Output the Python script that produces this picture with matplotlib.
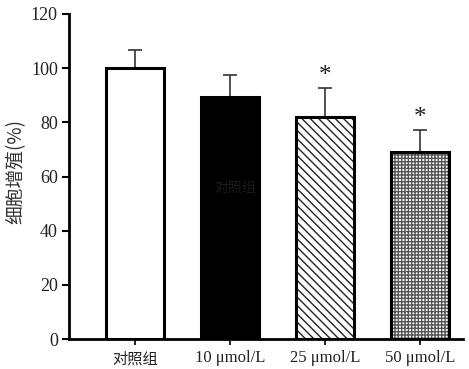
import matplotlib
matplotlib.use("Agg")
import matplotlib.pyplot as plt
import numpy as np

categories = ["对照组", "10 μmol/L", "25 μmol/L", "50 μmol/L"]
values = [100.0, 89.4, 82.0, 69.0]
errors = [6.7, 8.1, 10.7, 8.2]
significant = [False, False, True, True]
yticks = [0, 20, 40, 60, 80, 100, 120]

plt.rcParams['hatch.linewidth'] = 1.0
fig = plt.figure(figsize=(4.69, 3.69), dpi=100)
ax = fig.add_axes([69/469, (369-339)/369, (463-69)/469, (339-14)/369])

x = np.arange(len(categories))
facecolors = ["white", "black", "white", "white"]
hatches = [None, None, "\\\\\\\\", "+++++"]
hatchcolors = ["black", "black", "#222222", "#555555"]
for i in range(len(categories)):
    if hatches[i]:
        ax.bar(x[i], values[i], width=0.61, color=facecolors[i], edgecolor=hatchcolors[i],
               linewidth=0, hatch=hatches[i], zorder=2)
        ax.bar(x[i], values[i], width=0.61, fill=False, edgecolor="black",
               linewidth=2.2, zorder=3)
    else:
        ax.bar(x[i], values[i], width=0.61, color=facecolors[i], edgecolor="black",
               linewidth=2.2, zorder=2)
ax.errorbar(x, values, yerr=[np.zeros(len(values)), errors], fmt="none",
            ecolor="#333333", elinewidth=1.2, capsize=5, capthick=1.2, zorder=1)
for i in range(len(categories)):
    if significant[i]:
        ax.text(x[i], values[i] + errors[i] + 0.5, "*", ha="center", va="bottom",
                fontsize=18, family="Liberation Serif", color="#222222")

ax.text(x[1] + 0.05, 56, "对照组", ha="center", va="center", fontsize=10,
        family=["Noto Sans CJK SC"], color="#1c1c1c", zorder=4)

ax.set_xlim(-0.695, 3.45)
ax.set_ylim(0, 120)
ax.set_yticks(yticks)
ax.set_yticklabels([str(t) for t in yticks], family="Liberation Serif", fontsize=13, color="#222222")
ax.set_xticks(x)
ax.set_xticklabels(categories, fontsize=12, color="#222222")
for lab in ax.get_xticklabels():
    lab.set_family(["Liberation Serif", "Noto Sans CJK SC"])
ax.get_xticklabels()[0].set_family(["Noto Sans CJK SC"])
ax.get_xticklabels()[0].set_fontsize(11)

ax.spines["top"].set_visible(False)
ax.spines["right"].set_visible(False)
ax.spines["left"].set_linewidth(2.0)
ax.spines["bottom"].set_linewidth(2.0)
ax.tick_params(axis="y", direction="out", length=5, width=1.5, pad=3)
ax.tick_params(axis="x", direction="out", length=4, width=1.2, pad=4)

ax.set_ylabel("细胞增殖(%)", family=["Noto Sans CJK SC", "DejaVu Sans"], fontsize=13.5,
              color="#333333")
ax.yaxis.set_label_coords(-0.107, 0.515)

fig.savefig("out.png", dpi=100, facecolor="white")
